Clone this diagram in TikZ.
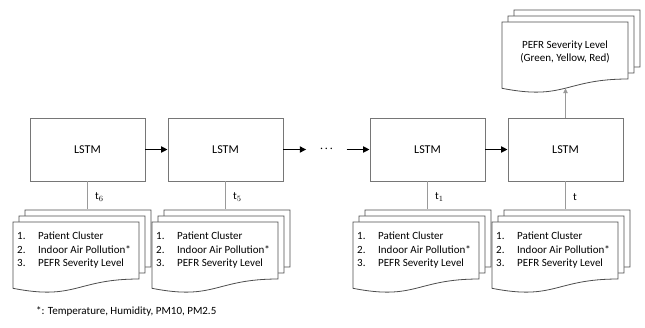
\documentclass[tikz,border=0pt]{standalone}
\usepackage{fontspec}
\setmainfont{Carlito}
\usetikzlibrary{positioning, arrows.meta}
\definecolor{boxgray}{HTML}{767676}
\definecolor{docgray}{HTML}{4D4D4D}
\definecolor{linegray}{HTML}{9A9A9A}
\tikzset{
	lstmnode/.style={
			shape=rectangle,
			draw=boxgray,
			line width=0.8pt,
			fill=white,
			minimum height=63pt,
			minimum width=115pt,
			inner sep=0pt,
			font=\fontsize{12}{14}\selectfont
		},
	docline/.style={
			draw=docgray,
			line width=0.8pt,
			fill=white
		},
	textnode/.style={
			inner sep=0pt,
			align=left,
			font=\fontsize{11}{13.5}\selectfont
		},
	flowarrow/.style={
			-{Triangle[length=6.5pt,width=6pt]},
			line width=1.8pt
		},
	timeline/.style={
			draw=linegray,
			line width=0.8pt
		}
}
% one document sheet, top left corner at (#1,#2)
\newcommand{\docsheet}[2]{%
  \draw[docline] (#1,#2) -- ++(126,0) -- ++(0,57)
    .. controls +(-63,0) and +(63,12.4) .. ++(-126,9.3) -- cycle;}
% three stacked sheets, front sheet at (#1,#2)
\newcommand{\docstack}[2]{%
  \docsheet{#1+12}{#2-12}
  \docsheet{#1+6}{#2-6}
  \docsheet{#1}{#2}}
\newcommand{\inputlist}{%
  \makebox[21pt][l]{1.}Patient Cluster\\
  \makebox[21pt][l]{2.}Indoor Air Pollution*\\
  \makebox[21pt][l]{3.}PEFR Severity Level}

\begin{document}
\begin{tikzpicture}[x=1pt, y=-1pt]
  \useasboundingbox (0,0) rectangle (645,327);

  % LSTM cells
  \node[lstmnode] (l6) at (87.5,149.5) {LSTM};
  \node[lstmnode] (l5) at (225.5,149.5) {LSTM};
  \node[lstmnode] (l1) at (427.5,149.5) {LSTM};
  \node[lstmnode] (l0) at (565.5,149.5) {LSTM};
  \node[inner sep=0pt, minimum width=40pt, minimum height=10pt,
        font=\fontsize{15}{15}\selectfont] (dots) at (326.5,149.5) {$\cdot\!\cdot\!\cdot$};

  \draw[flowarrow] (l6) -- (l5);
  \draw[flowarrow] (l5.east) -- (dots.west);
  \draw[flowarrow] (dots.east) -- (l1.west);
  \draw[flowarrow] (l1) -- (l0);

  % time steps
  \coordinate (c6) at (87.5,209);
  \coordinate (c5) at (225.5,209);
  \coordinate (c1) at (427.5,209);
  \coordinate (c0) at (565.5,209);
  \draw[timeline] (l6.south) -- (c6);
  \draw[timeline] (l5.south) -- (c5);
  \draw[timeline] (l1.south) -- (c1);
  \draw[timeline] (l0.south) -- (c0);
  \node[textnode, anchor=west] (t6) at (95,197) {t$_6$};
  \node[textnode, anchor=west] (t5) at (233,197) {t$_5$};
  \node[textnode, anchor=west] (t1) at (435,197) {t$_1$};
  \node[textnode, anchor=west] (t0) at (573,197) {t};

  % input documents
  \docstack{13}{222}
  \docstack{152}{222}
  \docstack{353}{222}
  \docstack{492}{222}
  \node[textnode, anchor=west] (d6) at (17,250.5) {\inputlist};
  \node[textnode, anchor=west] (d5) at (156,250.5) {\inputlist};
  \node[textnode, anchor=west] (d1) at (357,250.5) {\inputlist};
  \node[textnode, anchor=west] (d0) at (496,250.5) {\inputlist};

  % output document
  \docstack{502}{22}
  \node[textnode, align=center] (out) at (565,52) {PEFR Severity Level\\(Green, Yellow, Red)};
  \coordinate (outbot) at (565.5,88.5);
  \draw[timeline, -{Triangle[length=4.5pt,width=4.5pt]}] (l0.north) -- (outbot);

  % footnote
  \node[textnode, anchor=west] (note) at (36,311) {*: Temperature, Humidity, PM10, PM2.5};

\end{tikzpicture}
\end{document}
